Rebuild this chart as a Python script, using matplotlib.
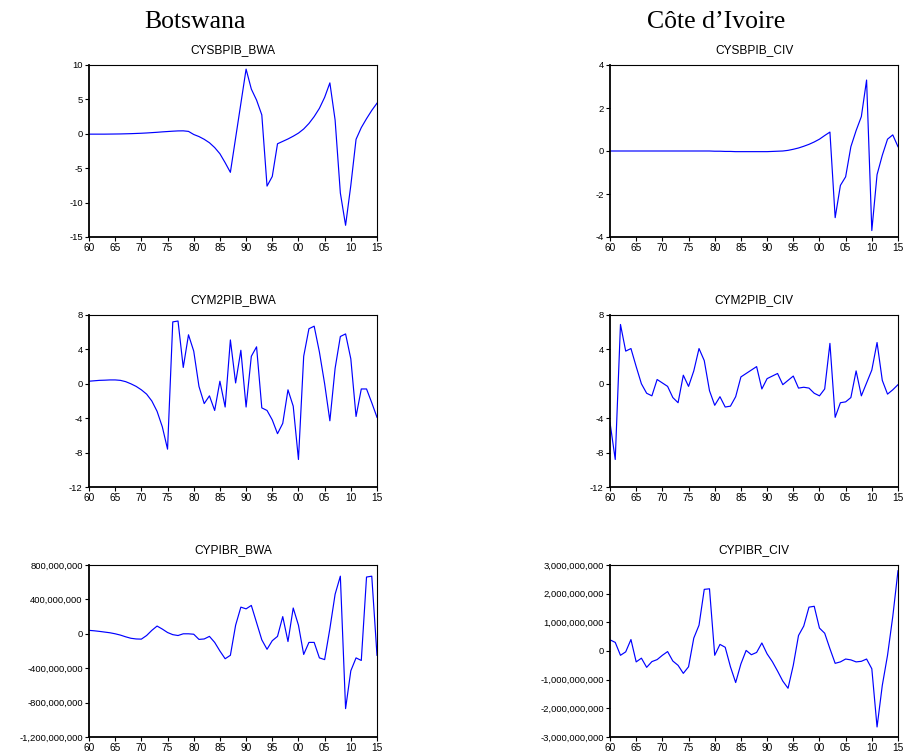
import numpy as np
import matplotlib
matplotlib.use('Agg')
import matplotlib.pyplot as plt
from matplotlib.ticker import FuncFormatter

years = np.arange(1960, 2016)

# Botswana
cysbpib_bwa = [-0.05, -0.05, -0.05, -0.05, -0.04, -0.03, -0.02, 0.0, 0.02, 0.05,
               0.08, 0.12, 0.17, 0.22, 0.28, 0.33, 0.38, 0.42, 0.43, 0.35,
               -0.1, -0.4, -0.8, -1.3, -2.0, -2.9, -4.2, -5.6, -0.6, 4.4,
               9.4, 6.5, 4.9, 2.75, -7.6, -6.2, -1.45, -1.1, -0.75, -0.35,
               0.1, 0.7, 1.5, 2.5, 3.7, 5.3, 7.4, 2.0, -8.6, -13.3,
               -7.5, -0.8, 0.9, 2.2, 3.4, 4.45]
cym2pib_bwa = [0.3, 0.35, 0.4, 0.42, 0.45, 0.45, 0.4, 0.25, 0.0, -0.3,
               -0.7, -1.2, -2.0, -3.2, -5.0, -7.6, 7.2, 7.3, 1.9, 5.7,
               3.8, -0.3, -2.3, -1.4, -3.1, 0.3, -2.7, 5.1, 0.1, 3.9,
               -2.7, 3.2, 4.3, -2.8, -3.1, -4.2, -5.8, -4.6, -0.7, -2.6,
               -8.8, 3.2, 6.4, 6.7, 3.7, 0.0, -4.3, 1.8, 5.5, 5.8,
               2.9, -3.8, -0.6, -0.6, -2.2, -3.9]
cypibr_bwa = [40e6, 35e6, 28e6, 20e6, 12e6, 0, -15e6, -35e6, -52e6, -60e6,
              -62e6, -20e6, 40e6, 90e6, 55e6, 15e6, -10e6, -20e6, 0, 0,
              -5e6, -65e6, -60e6, -30e6, -100e6, -200e6, -290e6, -250e6, 100e6, 310e6,
              290e6, 330e6, 130e6, -70e6, -180e6, -80e6, -30e6, 200e6, -90e6, 300e6,
              100e6, -240e6, -100e6, -100e6, -280e6, -300e6, 60e6, 460e6, 670e6, -870e6,
              -430e6, -280e6, -310e6, 660e6, 670e6, -250e6]

# Côte d'Ivoire
cysbpib_civ = [0.0, 0.0, 0.0, 0.0, 0.0, 0.0, 0.0, 0.0, 0.0, 0.0,
               0.0, 0.0, 0.0, 0.0, 0.0, 0.0, 0.0, 0.0, 0.0, 0.0,
               -0.01, -0.01, -0.02, -0.02, -0.03, -0.03, -0.03, -0.03, -0.03, -0.03,
               -0.03, -0.02, -0.01, 0.0, 0.03, 0.08, 0.14, 0.22, 0.31, 0.42,
               0.55, 0.72, 0.88, -3.1, -1.6, -1.2, 0.2, 0.95, 1.6, 3.3,
               -3.7, -1.1, -0.2, 0.55, 0.75, 0.2]
cym2pib_civ = [-4.5, -8.8, 6.9, 3.8, 4.1, 2.0, 0.0, -1.1, -1.4, 0.5,
               0.1, -0.3, -1.6, -2.2, 1.0, -0.3, 1.5, 4.1, 2.7, -0.8,
               -2.5, -1.5, -2.7, -2.6, -1.5, 0.8, 1.2, 1.6, 2.0, -0.6,
               0.6, 0.9, 1.2, -0.1, 0.4, 0.9, -0.5, -0.4, -0.5, -1.1,
               -1.4, -0.6, 4.7, -3.9, -2.2, -2.1, -1.6, 1.5, -1.4, 0.1,
               1.6, 4.8, 0.4, -1.2, -0.7, -0.1]
cypibr_civ = [390e6, 300e6, -150e6, -30e6, 400e6, -380e6, -250e6, -570e6, -370e6, -300e6,
              -150e6, -20e6, -350e6, -500e6, -780e6, -550e6, 450e6, 900e6, 2150e6, 2170e6,
              -150e6, 230e6, 130e6, -550e6, -1100e6, -450e6, 20e6, -130e6, -50e6, 280e6,
              -100e6, -370e6, -700e6, -1050e6, -1300e6, -500e6, 540e6, 870e6, 1530e6, 1560e6,
              800e6, 620e6, 80e6, -430e6, -380e6, -280e6, -310e6, -380e6, -360e6, -280e6,
              -620e6, -2650e6, -1200e6, -150e6, 1200e6, 2800e6]

panels = [
    ('CYSBPIB_BWA', cysbpib_bwa, (-15, 10), [-15, -10, -5, 0, 5, 10]),
    ('CYSBPIB_CIV', cysbpib_civ, (-4, 4), [-4, -2, 0, 2, 4]),
    ('CYM2PIB_BWA', cym2pib_bwa, (-12, 8), [-12, -8, -4, 0, 4, 8]),
    ('CYM2PIB_CIV', cym2pib_civ, (-12, 8), [-12, -8, -4, 0, 4, 8]),
    ('CYPIBR_BWA', cypibr_bwa, (-1.2e9, 0.8e9), [-1.2e9, -0.8e9, -0.4e9, 0, 0.4e9, 0.8e9]),
    ('CYPIBR_CIV', cypibr_civ, (-3e9, 3e9), [-3e9, -2e9, -1e9, 0, 1e9, 2e9, 3e9]),
]

W, H = 906, 755
fig = plt.figure(figsize=(W / 100, H / 100), dpi=100)

lefts = [89, 610]
tops = [65, 315, 565]
ax_w, ax_h = 288, 172

xt = np.arange(1960, 2016, 5)
xtl = ['%02d' % (y % 100) for y in xt]

fmt = FuncFormatter(lambda v, p: '{:,.0f}'.format(v))

for i, (name, vals, ylim, yt) in enumerate(panels):
    row, col = divmod(i, 2)
    ax = fig.add_axes([lefts[col] / W, 1 - (tops[row] + ax_h) / H, ax_w / W, ax_h / H])
    ax.plot(years, vals, color='#0000ff', lw=0.85)
    ax.set_xlim(1960, 2015)
    ax.set_ylim(*ylim)
    ax.set_xticks(xt)
    ax.set_xticklabels(xtl)
    ax.set_yticks(yt)
    ax.yaxis.set_major_formatter(fmt)
    ax.tick_params(length=3, width=0.8, pad=1.5,
                   direction='out', top=False, right=False)
    ax.tick_params(axis='x', labelsize=7.3)
    ax.tick_params(axis='y', labelsize=6.8)
    for s in ['left', 'bottom']:
        ax.spines[s].set_linewidth(1.3)
    for s in ['top', 'right']:
        ax.spines[s].set_linewidth(0.8)
    ax.text(0.5, 1 + 12 / ax_h, name, transform=ax.transAxes, ha='center',
            va='baseline', fontsize=8.6, family='Liberation Sans')
    for lab in ax.get_xticklabels() + ax.get_yticklabels():
        lab.set_family('Liberation Sans')

fig.text(195 / W, 1 - 28 / H, 'Botswana', ha='center', va='baseline',
         fontsize=18.5, family='Liberation Serif')
fig.text(716 / W, 1 - 28 / H, 'Côte d\u2019Ivoire', ha='center', va='baseline',
         fontsize=18.5, family='Liberation Serif')

fig.savefig('out.png', dpi=100)
